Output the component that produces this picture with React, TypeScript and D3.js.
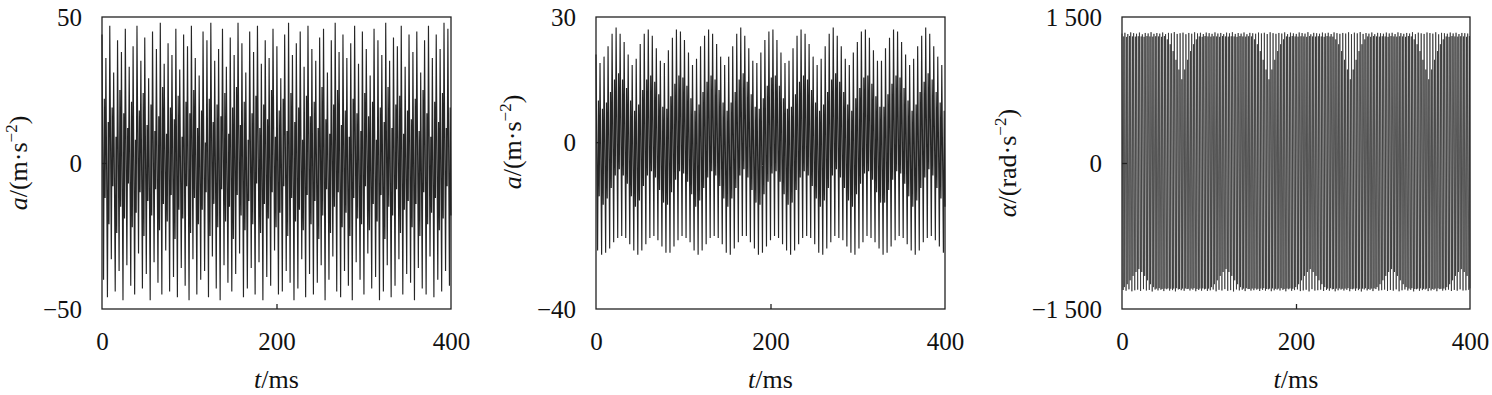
import React, { useEffect, useRef } from 'react';
import * as d3 from 'd3';

// time axis shared by all three panels (ms)
const timeTicks = [0, 200, 400];

// panel 1: linear acceleration, m/s^2
const p1Ticks = [-50, 0, 50];
const p1Peaks = [
  44, 36, 47, 31, 42, 38, 46, 33, 40, 47,
  35, 43, 29, 45, 39, 48, 34, 41, 37, 46,
  32, 44, 40, 47, 36, 30, 45, 42, 48, 35,
  39, 46, 33, 43, 37, 48, 41, 31, 45, 38,
  47, 34, 42, 36, 46, 40, 29, 44, 48, 37,
  41, 45, 33, 47, 39, 35, 43, 46, 31, 42,
  48, 38, 44, 36, 41, 47, 34, 45, 39, 30,
  46, 42, 37, 48, 35, 43, 40, 47, 33, 44,
  38, 45, 31, 42, 47, 36, 44, 39, 48, 46
];
const p1Troughs = [
  -40, -46, -33, -44, -37, -47, -35, -42, -45, -31,
  -43, -38, -47, -34, -41, -45, -30, -44, -39, -46,
  -36, -42, -47, -33, -45, -40, -37, -46, -32, -43,
  -47, -35, -41, -44, -38, -31, -46, -43, -36, -45,
  -34, -47, -39, -42, -30, -45, -44, -37, -41, -47,
  -43, -33, -46, -38, -45, -41, -35, -47, -40, -32,
  -44, -46, -37, -42, -47, -34, -40, -45, -31, -43,
  -39, -47, -44, -35, -46, -42, -33, -45, -38, -41,
  -47, -36, -43, -45, -32, -46, -40, -44, -37, -42
];
const p1InnerHi = [
  22, 14, 19, 9, 25, 17, 12, 21, 8, 18,
  24, 13, 20, 11, 16, 26, 10, 19, 15, 23,
  9, 21, 17, 25, 12, 18, 7, 22, 14, 20,
  16, 24, 10, 19, 26, 13, 21, 8, 17, 23,
  12, 20, 15, 25, 9, 18, 22, 11, 24, 14,
  19, 8, 23, 16, 21, 12, 26, 15, 10, 20,
  25, 13, 18, 9, 22, 17, 11, 24, 16, 21,
  8, 19, 14, 26, 12, 20, 23, 10, 18, 15,
  22, 11, 25, 17, 9, 21, 14, 24, 12, 19
];
const p1InnerLo = [
  -12, -21, -8, -24, -15, -19, -7, -22, -17, -10,
  -25, -13, -18, -9, -23, -14, -20, -11, -26, -16,
  -19, -8, -24, -12, -21, -16, -10, -25, -14, -22,
  -9, -20, -15, -26, -11, -18, -23, -13, -21, -7,
  -24, -14, -19, -10, -22, -17, -8, -25, -12, -20,
  -16, -23, -11, -21, -13, -26, -18, -9, -24, -15,
  -10, -22, -17, -25, -12, -19, -21, -8, -23, -14,
  -20, -11, -26, -15, -18, -9, -24, -16, -13, -22,
  -14, -25, -10, -21, -17, -12, -23, -19, -8, -18
];

// panel 2: linear acceleration, m/s^2
const p2Ticks = [-40, 0, 30];
const p2Peaks = [
  21, 19, 20.5, 23, 26, 27.5, 26, 24, 21, 18.5,
  20, 23.5, 26, 27, 25.5, 22.5, 19.5, 19, 22, 25,
  27, 26.5, 24.5, 21.5, 18.5, 20, 23, 25.5, 27, 26,
  23.5, 20.5, 18.5, 20.5, 23, 26, 27.5, 25.5, 22.5, 19.5,
  19, 21.5, 24.5, 26.5, 27, 24.5, 21.5, 19, 19.5, 22.5,
  25.5, 27, 26, 23.5, 20.5, 18.5, 20, 23, 26, 27.5,
  25.5, 23, 20, 18.5, 21.5, 24, 26.5, 27, 25, 22,
  19.5, 19.5, 22.5, 25, 27, 26.5, 24, 21, 18.5, 20,
  23, 25.5, 27.5, 26, 23, 20.5, 18.5
];
const p2Troughs = [
  -26, -27, -26.5, -25.5, -24, -23, -22.5, -23, -24.5, -26,
  -27, -26, -24.5, -23, -22.5, -23.5, -25, -26.5, -26.5, -25,
  -23.5, -22.5, -23, -24, -26, -27, -26, -24.5, -23, -22.5,
  -23, -24.5, -26.5, -27, -25.5, -24, -22.5, -22.5, -24, -25.5,
  -27, -26.5, -25, -23.5, -22.5, -23, -24.5, -26, -27, -26,
  -24.5, -23, -22.5, -23, -24.5, -26.5, -27, -25.5, -24, -22.5,
  -23, -23.5, -25, -26.5, -27, -25.5, -24, -22.5, -23, -24,
  -25.5, -27, -26.5, -25, -23.5, -22.5, -23, -24.5, -26, -27,
  -26, -24, -23, -22.5, -23.5, -25, -26.5
];
const p2InnerHi = [
  10, 8, 9.5, 12, 15, 16.5, 15, 13, 10, 7.5,
  9, 12.5, 15, 16, 14.5, 11.5, 8.5, 8, 11, 14,
  16, 15.5, 13.5, 10.5, 7.5, 9, 12, 14.5, 16, 15,
  12.5, 9.5, 7.5, 9.5, 12, 15, 16.5, 14.5, 11.5, 8.5,
  8, 10.5, 13.5, 15.5, 16, 13.5, 10.5, 8, 8.5, 11.5,
  14.5, 16, 15, 12.5, 9.5, 7.5, 9, 12, 15, 16.5,
  14.5, 12, 9, 7.5, 10.5, 13, 15.5, 16, 14, 11,
  8.5, 8.5, 11.5, 14, 16, 15.5, 13, 10, 7.5, 9,
  12, 14.5, 16.5, 15, 12, 9.5, 7.5
];
const p2InnerLo = [
  -13, -15, -13.5, -11, -8, -6.5, -8, -10, -13, -15.5,
  -14, -10.5, -8, -7, -8.5, -11.5, -14.5, -15, -12, -9,
  -7, -7.5, -9.5, -12.5, -15.5, -14, -11, -8.5, -7, -8,
  -10.5, -13.5, -15.5, -13.5, -11, -8, -6.5, -8.5, -11.5, -14.5,
  -15, -12.5, -9.5, -7.5, -7, -9.5, -12.5, -15, -14.5, -11.5,
  -8.5, -7, -8, -10.5, -13.5, -15.5, -14, -11, -8, -6.5,
  -8.5, -11, -14, -15.5, -12.5, -10, -7.5, -7, -9, -12,
  -14.5, -14.5, -11.5, -9, -7, -7.5, -10, -13, -15.5, -14,
  -11, -8.5, -6.5, -8, -11, -13.5, -15.5
];

// panel 3: angular acceleration, rad/s^2
const p3Ticks = [-1500, 0, 1500];
const p3TickLabels = ['\u22121 500', '0', '1 500'];
const p3Peaks = [
  1330, 1338, 1325, 1342, 1334, 1328, 1340, 1322, 1336, 1331, 1344, 1327,
  1335, 1329, 1341, 1324, 1337, 1332, 1345, 1326, 1333, 1339, 1323, 1336,
  1328, 1343, 1331, 1338, 1325, 1340, 1334, 1327, 1342, 1330, 1336, 1324,
  1339, 1332, 1344, 1326, 1335, 1329, 1341, 1323, 1337, 1333, 1328, 1340,
  1331, 1338, 1325, 1343, 1334, 1327, 1336, 1330, 1342, 1324, 1339, 1332,
  1326, 1341, 1335, 1329, 1344, 1322, 1337, 1333, 1328, 1340, 1331, 1338,
  1325, 1342, 1334, 1327, 1336, 1330, 1343, 1324, 1339, 1332, 1345, 1326,
  1335, 1329, 1341, 1323, 1337, 1333, 1328, 1340, 1331, 1338, 1325, 1342,
  1334, 1327, 1336, 1330, 1344, 1324, 1339, 1332, 1326, 1341, 1335, 1329,
  1343, 1322, 1337, 1333, 1328, 1340, 1331, 1338, 1325, 1336, 1334, 1330
];
const p3Troughs = [
  -1305, -1312, -1298, -1318, -1308, -1301, -1315, -1296, -1310, -1304, -1320, -1300,
  -1309, -1302, -1316, -1297, -1311, -1306, -1319, -1299, -1307, -1313, -1295, -1310,
  -1301, -1317, -1305, -1312, -1298, -1314, -1308, -1300, -1318, -1303, -1310, -1296,
  -1313, -1306, -1320, -1299, -1309, -1302, -1316, -1295, -1311, -1307, -1301, -1315,
  -1304, -1312, -1298, -1317, -1308, -1300, -1310, -1303, -1318, -1297, -1313, -1306,
  -1299, -1316, -1309, -1302, -1319, -1296, -1311, -1307, -1301, -1315, -1304, -1312,
  -1298, -1318, -1308, -1300, -1310, -1303, -1317, -1297, -1313, -1306, -1320, -1299,
  -1309, -1302, -1316, -1295, -1311, -1307, -1301, -1315, -1304, -1312, -1298, -1318,
  -1308, -1300, -1310, -1303, -1319, -1297, -1313, -1306, -1299, -1316, -1309, -1302,
  -1317, -1296, -1311, -1307, -1301, -1315, -1304, -1312, -1298, -1310, -1308, -1303
];
const p3InnerHi = [
  1300, 1295, 1305, 1300, 1298, 1302, 1300, 1296, 1304, 1300, 1298, 1302,
  1300, 1296, 1304, 1270, 1220, 1150, 1060, 960, 860, 960, 1060, 1150,
  1220, 1270, 1300, 1296, 1304, 1300, 1298, 1302, 1300, 1296, 1304, 1300,
  1298, 1302, 1300, 1296, 1304, 1300, 1298, 1302, 1300, 1270, 1220, 1150,
  1060, 960, 860, 960, 1060, 1150, 1220, 1270, 1300, 1296, 1304, 1300,
  1298, 1302, 1300, 1296, 1304, 1300, 1298, 1302, 1300, 1296, 1304, 1300,
  1298, 1270, 1220, 1150, 1060, 960, 860, 960, 1060, 1150, 1220, 1270,
  1300, 1296, 1304, 1300, 1298, 1302, 1300, 1296, 1304, 1300, 1298, 1302,
  1300, 1296, 1304, 1300, 1270, 1220, 1150, 1060, 960, 860, 960, 1060,
  1150, 1220, 1270, 1300, 1296, 1304, 1300, 1298, 1302, 1300, 1296, 1304
];
const p3InnerLo = [
  -1275, -1245, -1205, -1160, -1120, -1090, -1120, -1160, -1205, -1245, -1275, -1290,
  -1286, -1294, -1290, -1288, -1292, -1290, -1286, -1294, -1290, -1288, -1292, -1290,
  -1286, -1294, -1290, -1288, -1292, -1290, -1275, -1245, -1205, -1160, -1120, -1090,
  -1120, -1160, -1205, -1245, -1275, -1290, -1286, -1294, -1290, -1288, -1292, -1290,
  -1286, -1294, -1290, -1288, -1292, -1290, -1286, -1294, -1290, -1288, -1292, -1275,
  -1245, -1205, -1160, -1120, -1090, -1120, -1160, -1205, -1245, -1275, -1290, -1286,
  -1294, -1290, -1288, -1292, -1290, -1286, -1294, -1290, -1288, -1292, -1290, -1286,
  -1294, -1290, -1288, -1275, -1245, -1205, -1160, -1120, -1090, -1120, -1160, -1205,
  -1245, -1275, -1290, -1286, -1294, -1290, -1288, -1292, -1290, -1286, -1294, -1290,
  -1288, -1292, -1290, -1275, -1245, -1205, -1160, -1120, -1090, -1120, -1160, -1288
];

const W = 1492;
const H = 395;
const TOP = 17;
const BOTTOM = 309;
const FONT = '"Liberation Serif", "Times New Roman", serif';

type Panel = {
  left: number;
  right: number;
  domain: [number, number];
  ticks: number[];
  tickLabels?: string[];
  peaks: number[];
  troughs: number[];
  hi: number[];
  lo: number[];
  stroke: number;
  titleX: number;
  titleY: number;
  sym: string;
  unit: string;
};

const panels: Panel[] = [
  { left: 102, right: 451, domain: [-50, 50], ticks: p1Ticks, peaks: p1Peaks, troughs: p1Troughs,
    hi: p1InnerHi, lo: p1InnerLo, stroke: 1.15, titleX: 27, titleY: 163, sym: 'a', unit: 'm' },
  { left: 596, right: 945, domain: [-40, 30], ticks: p2Ticks, peaks: p2Peaks, troughs: p2Troughs,
    hi: p2InnerHi, lo: p2InnerLo, stroke: 1.15, titleX: 521, titleY: 142, sym: 'a', unit: 'm' },
  { left: 1122, right: 1470, domain: [-1500, 1500], ticks: p3Ticks, tickLabels: p3TickLabels,
    peaks: p3Peaks, troughs: p3Troughs, hi: p3InnerHi, lo: p3InnerLo, stroke: 0.7,
    titleX: 1016, titleY: 163, sym: '\u03b1', unit: 'rad' },
];

// one cycle = peak, trough, then a small inner swing
function buildPoints(p: Panel): [number, number][] {
  const n = p.peaks.length;
  const dt = 400 / (n - 0.2);
  const pts: [number, number][] = [];
  for (let i = 0; i < n; i++) {
    const t0 = i * dt;
    pts.push([t0, p.peaks[i]]);
    pts.push([t0 + dt * 0.4, p.troughs[i]]);
    pts.push([t0 + dt * 0.6, p.hi[i]]);
    pts.push([t0 + dt * 0.8, p.lo[i]]);
  }
  return pts;
}

const App = () => {
  const ref = useRef<SVGSVGElement>(null);

  useEffect(() => {
    const svg = d3.select(ref.current);
    svg.selectAll('*').remove();

    panels.forEach((p) => {
      const x = d3.scaleLinear().domain([0, 400]).range([p.left, p.right]);
      const y = d3.scaleLinear().domain(p.domain).range([BOTTOM, TOP]);
      const g = svg.append('g');

      const line = d3.line<[number, number]>()
        .x((d) => x(d[0]))
        .y((d) => y(d[1]));

      g.append('path')
        .datum(buildPoints(p))
        .attr('d', line)
        .attr('fill', 'none')
        .attr('stroke', '#262626')
        .attr('stroke-width', p.stroke);

      // frame
      g.append('rect')
        .attr('x', p.left)
        .attr('y', TOP)
        .attr('width', p.right - p.left)
        .attr('height', BOTTOM - TOP)
        .attr('fill', 'none')
        .attr('stroke', '#222')
        .attr('stroke-width', 1.3);

      const yAxis = d3.axisLeft(y)
        .tickValues(p.ticks)
        .tickSize(-5)
        .tickPadding(20)
        .tickFormat((d, i) => (p.tickLabels ? p.tickLabels[i] : String(d).replace('-', '\u2212')));
      const ya = g.append('g').attr('transform', `translate(${p.left},0)`).call(yAxis);

      const xAxis = d3.axisBottom(x)
        .tickValues(timeTicks)
        .tickSize(-5)
        .tickPadding(23)
        .tickFormat((d) => String(d));
      const xa = g.append('g').attr('transform', `translate(0,${BOTTOM})`).call(xAxis);

      [ya, xa].forEach((a) => {
        a.select('.domain').remove();
        a.selectAll('line').attr('stroke', '#222').attr('stroke-width', 1.3);
        a.selectAll('text')
          .attr('font-family', FONT)
          .attr('font-size', 25)
          .attr('fill', '#111');
      });
      // end ticks sit on the frame, only the middle ones show
      ya.selectAll('.tick').filter((d) => d !== 0).select('line').remove();
      xa.selectAll('.tick').filter((d) => d !== 200).select('line').remove();

      // y title
      const yt = g.append('text')
        .attr('transform', `translate(${p.titleX},${p.titleY}) rotate(-90)`)
        .attr('text-anchor', 'middle')
        .attr('font-family', FONT)
        .attr('font-size', 26)
        .attr('fill', '#111');
      yt.append('tspan').attr('font-style', 'italic').text(p.sym);
      yt.append('tspan').text(`/(${p.unit}\u00b7s`);
      yt.append('tspan').attr('dy', -10).attr('font-size', 17).text('\u22122');
      yt.append('tspan').attr('dy', 10).text(')');

      // x title
      const xt = g.append('text')
        .attr('x', (p.left + p.right) / 2)
        .attr('y', 388)
        .attr('text-anchor', 'middle')
        .attr('font-family', FONT)
        .attr('font-size', 26)
        .attr('fill', '#111');
      xt.append('tspan').attr('font-style', 'italic').text('t');
      xt.append('tspan').text('/ms');
    });
  }, []);

  return (
    <svg
      ref={ref}
      width={W}
      height={H}
      style={{ position: 'absolute', left: 0, top: 0, background: '#fff' }}
    />
  );
};

export default App;
